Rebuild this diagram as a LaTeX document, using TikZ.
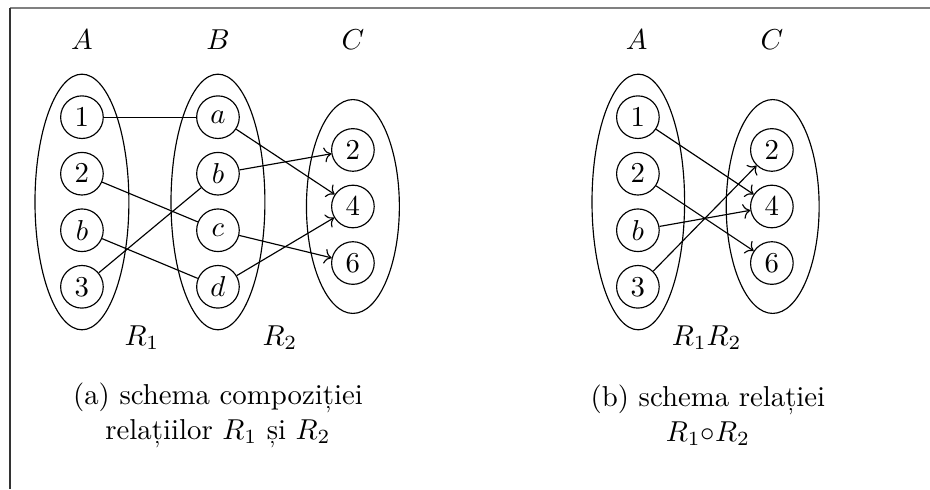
\documentclass[tikz,border=0pt]{standalone}
\usepackage{fontspec}
\usepackage{amsmath, amssymb}
\usetikzlibrary{arrows.meta, calc}

\tikzset{
  elem/.style={draw, circle, minimum size=0.52cm, inner sep=1pt},
  capt/.style={align=center}
}

\begin{document}
\begin{tikzpicture}[scale=1.0]
  \useasboundingbox (0,0) rectangle (11.35,-5.97);
  % frame edges
  \draw[gray, line width=0.8pt] (0.12,-0.1) -- (11.35,-0.1);
  \draw[black!80, line width=0.8pt] (0.12,-0.1) -- (0.12,-5.97);
  % (a) the three sets
  \draw (1.0,-2.465) ellipse (0.573 and 1.56);
  \draw (2.66,-2.465) ellipse (0.573 and 1.56);
  \draw (4.307,-2.52) ellipse (0.567 and 1.305);
  \node at (1.0,-0.49) {$A$};
  \node at (2.66,-0.49) {$B$};
  \node at (4.307,-0.49) {$C$};
  \foreach \lab/\nm/\y in {1/a1/-1.43, 2/a2/-2.12, b/ab/-2.81, 3/a3/-3.50}{
    \node[elem] (\nm) at (1.0,\y) {$\lab$};
  }
  \foreach \lab/\nm/\y in {a/ba/-1.43, b/bb/-2.12, c/bc/-2.81, d/bd/-3.50}{
    \node[elem] (\nm) at (2.66,\y) {$\lab$};
  }
  \foreach \lab/\nm/\y in {2/c2/-1.83, 4/c4/-2.52, 6/c6/-3.21}{
    \node[elem] (\nm) at (4.307,\y) {$\lab$};
  }
  % R1 then R2
  \foreach \s/\t in {a1/ba, a2/bc, ab/bd, a3/bb}{
    \draw (\s) -- (\t);
  }
  \foreach \s/\t in {ba/c4, bb/c2, bc/c6, bd/c4}{
    \draw[->] (\s) -- (\t);
  }
  \node at (1.732,-4.12) {$R_1$};
  \node at (3.416,-4.12) {$R_2$};
  \node[capt] (capa) at (2.66,-5.07) {(a) schema compoziției\\relațiilor $R_1$ și $R_2$};
  % (b) the composed relation
  \draw (7.79,-2.465) ellipse (0.565 and 1.56);
  \draw (9.43,-2.52) ellipse (0.567 and 1.305);
  \node at (7.77,-0.49) {$A$};
  \node at (9.42,-0.49) {$C$};
  \foreach \lab/\nm/\y in {1/ra1/-1.43, 2/ra2/-2.12, b/rab/-2.81, 3/ra3/-3.50}{
    \node[elem] (\nm) at (7.785,\y) {$\lab$};
  }
  \foreach \lab/\nm/\y in {2/rc2/-1.83, 4/rc4/-2.52, 6/rc6/-3.21}{
    \node[elem] (\nm) at (9.42,\y) {$\lab$};
  }
  \foreach \s/\t in {ra1/rc4, ra2/rc6, rab/rc4, ra3/rc2}{
    \draw[->] (\s) -- (\t);
  }
  \node at (8.625,-4.12) {$R_1R_2$};
  \node[capt] (capb) at (8.64,-5.07) {(b) schema relației\\$R_1{\circ}R_2$};
\end{tikzpicture}
\end{document}
